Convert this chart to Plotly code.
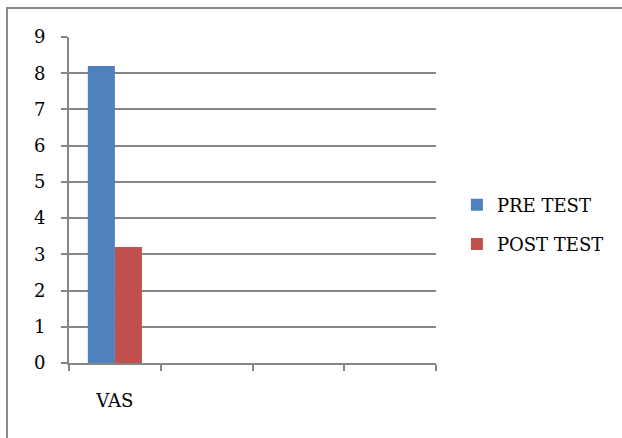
import plotly.graph_objects as go

categories = ["VAS", " ", "  ", "   "]
pre_test = [8.2, None, None, None]
post_test = [3.2, None, None, None]
series_names = ["PRE TEST", "POST TEST"]
y_ticks = list(range(0, 10))

FONT = "DejaVu Serif"
GRID = "#868686"

fig = go.Figure()
fig.add_trace(go.Bar(x=categories, y=pre_test, name=series_names[0],
                     marker=dict(color="#4F81BD", line=dict(width=0)), legendgroup="a"))
fig.add_trace(go.Bar(x=categories, y=post_test, name=series_names[1],
                     marker=dict(color="#C0504D", line=dict(width=0)), legendgroup="b"))

fig.update_layout(
    width=622, height=438,
    margin=dict(l=69, r=186, t=37, b=75, autoexpand=False),
    paper_bgcolor="white", plot_bgcolor="white",
    font=dict(family=FONT, size=18, color="black"),
    barmode="group", bargap=0.41, bargroupgap=0,
    showlegend=True,
    legend=dict(x=1.057, y=0.425, xanchor="left", yanchor="middle",
                font=dict(family=FONT, size=18, color="black"),
                tracegroupgap=13, itemwidth=30, bgcolor="rgba(0,0,0,0)"),
    xaxis=dict(type="category", categoryorder="array", categoryarray=categories,
               tickson="boundaries", ticks="outside", ticklen=6, tickwidth=2,
               tickcolor=GRID, showline=True, linecolor=GRID, linewidth=2,
               showgrid=False, zeroline=False, ticklabelstandoff=20,
               tickfont=dict(family=FONT, size=18, color="black"),
               range=[-0.5, 3.5], fixedrange=True),
    yaxis=dict(range=[0, 9], tickvals=y_ticks, ticks="outside", ticklen=6,
               tickwidth=2, tickcolor=GRID, showline=True, linecolor=GRID,
               linewidth=2, showgrid=True, gridcolor=GRID, gridwidth=2,
               tickfont=dict(family=FONT, size=18, color="black"),
               zeroline=False, ticklabelstandoff=12, fixedrange=True),
    shapes=[dict(type="rect", xref="paper", yref="paper",
                 x0=(7 - 69) / 367, x1=(640 - 69) / 367,
                 y0=(363 - 460) / 326, y1=(363 - 8) / 326,
                 line=dict(color="#8a8a8a", width=2), fillcolor="rgba(0,0,0,0)",
                 layer="below")],
)

fig.write_html("out.html")
